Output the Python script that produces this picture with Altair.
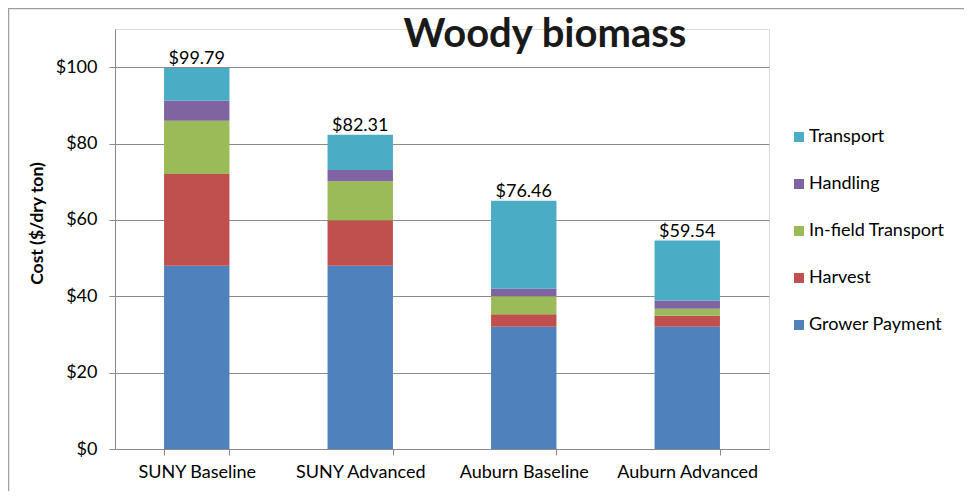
import altair as alt
import pandas as pd

categories = ["SUNY Baseline", "SUNY Advanced", "Auburn Baseline", "Auburn Advanced"]
series_names = ["Grower Payment", "Harvest", "In-field Transport", "Handling", "Transport"]
grower = [48.0, 48.0, 32.0, 32.0]
harvest = [24.0, 11.9, 3.3, 2.9]
infield = [14.0, 10.2, 4.7, 1.8]
handling = [5.2, 3.0, 2.0, 2.2]
transport = [8.6, 9.2, 23.0, 15.7]
total_labels = ["$99.79", "$82.31", "$76.46", "$59.54"]
colors = ["#4F81BD", "#C0504D", "#9BBB59", "#8064A2", "#4BACC6"]
y_ticks = [0, 20, 40, 60, 80, 100]
chart_title = ["Woody biomass"]

series_values = [grower, harvest, infield, handling, transport]
rows = []
for si, (name, vals) in enumerate(zip(series_names, series_values)):
    for ci, cat in enumerate(categories):
        rows.append({"category": cat, "series": name, "value": vals[ci], "order": si})
df = pd.DataFrame(rows)

totals = [sum(v[ci] for v in series_values) for ci in range(len(categories))]
tot_df = pd.DataFrame({"category": categories, "total": totals, "label": total_labels})

FONT = "Lato"
GRID = "#8a8a8a"

x_enc = alt.X(
    "category:N",
    sort=categories,
    scale=alt.Scale(paddingInner=0.6, paddingOuter=0.3),
    axis=alt.Axis(
        title=None, labelAngle=0, tickBand="extent", tickSize=6, grid=False,
        domainColor=GRID, tickColor=GRID, labelFontSize=18, labelPadding=8,
        labelColor="#000000", labelFont=FONT,
    ),
)
y_axis = alt.Axis(
    values=y_ticks, labelExpr="'$' + datum.value", title="Cost ($/dry ton)",
    titleFont=FONT, titleFontSize=17.5, titleFontWeight="bold", titleColor="#000000",
    titleX=-78, titleY=194, titleAngle=270, titleAlign="center", titleBaseline="middle",
    labelFont=FONT, labelFontSize=18, labelColor="#000000", labelPadding=12,
    tickSize=6, tickColor=GRID, domainColor=GRID, gridColor=GRID, grid=True,
)
y_scale = alt.Scale(domain=[0, 110], nice=False)

bars = alt.Chart(df).mark_bar().encode(
    x=x_enc,
    y=alt.Y("value:Q", stack="zero", scale=y_scale, axis=y_axis),
    color=alt.Color(
        "series:N",
        scale=alt.Scale(domain=series_names[::-1], range=colors[::-1]),
        legend=alt.Legend(
            title=None, orient="none", legendX=675, legendY=99,
            symbolType="square", symbolSize=100, symbolStrokeWidth=0,
            labelFont=FONT, labelFontSize=18, labelColor="#000000",
            rowPadding=29, labelOffset=1,
        ),
    ),
    order=alt.Order("order:Q", sort="ascending"),
)

labels = alt.Chart(tot_df).mark_text(
    baseline="alphabetic", dy=-4, fontSize=18, font=FONT, color="#000000"
).encode(
    x=alt.X("category:N", sort=categories),
    y=alt.Y("total:Q", scale=y_scale, axis=y_axis),
    text="label:N",
)

title_df = pd.DataFrame({"t": chart_title})
title_mark = alt.Chart(title_df).mark_text(
    font=FONT, fontSize=40, fontWeight="bold", color="#1a1a1a",
    align="center", baseline="alphabetic",
).encode(x=alt.value(430), y=alt.value(18), text="t:N")

frame_df = pd.DataFrame({"k": [0]})
top_border = alt.Chart(frame_df).mark_rule(color="#a0a0a0", strokeWidth=1.5).encode(
    x=alt.value(-107), x2=alt.value(900), y=alt.value(-20.5)
)
left_border = alt.Chart(frame_df).mark_rule(color="#a0a0a0", strokeWidth=1.5).encode(
    x=alt.value(-106.5), y=alt.value(-21), y2=alt.value(470)
)

chart = alt.layer(bars, labels, title_mark, top_border, left_border).properties(
    width=654,
    height=420,
    autosize=alt.AutoSizeParams(type="none"),
    padding={"left": 107, "top": 21, "right": 195, "bottom": 42},
).configure_view(stroke=None).configure(background="white")

chart.save("out.html", embed_options={"renderer": "svg", "actions": False})
